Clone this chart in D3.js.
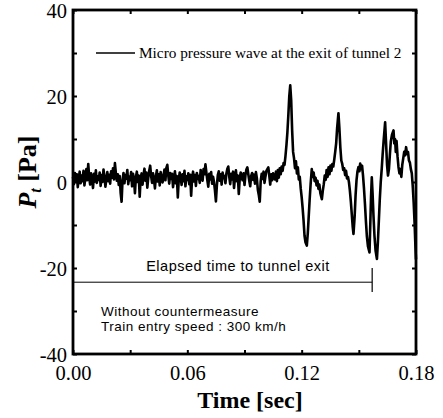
<!DOCTYPE html>
<html>
<head>
<meta charset="utf-8">
<script src="https://cdn.jsdelivr.net/npm/d3@7"></script>
<style>
  body { margin: 0; background: #fff; }
  svg { display: block; }
  .tick text { font-family: "Liberation Serif", "Times New Roman", serif; font-size: 20.5px; fill: #000; }
  .tick line { stroke: #000; stroke-width: 2; }
</style>
</head>
<body>
<div id="chart"></div>
<script>
// Axis ticks and labels
const xTicks = [0, 0.03, 0.06, 0.09, 0.12, 0.15, 0.18];
const xTickLabels = ["0.00", "", "0.06", "", "0.12", "", "0.18"];
const yTicks = [-40, -30, -20, -10, 0, 10, 20, 30, 40];
const yTickLabels = ["-40", "", "-20", "", "0", "", "20", "", "40"];

// Background noise before the wave arrives (sampled every 0.5 ms from t = 0)
const noiseStep = 0.0005;
const noiseValues = [
  1.2, -0.5, 2.1, 0.3, 1.8, -1.2, 0.9, 2.4, -0.3, 1.5,
  0.2, 2.6, -0.8, 1.1, 3.0, 0.4, 4.2, 1.0, -0.6, 2.0,
  0.8, -1.4, 1.9, 0.1, 2.7, -0.2, 1.3, 0.5, 2.2, -0.9,
  1.6, 0.0, 2.9, 1.2, -1.1, 0.7, 2.3, 0.2, 1.7, -0.4,
  2.5, 1.0, 3.2, 0.6, 4.4, 2.0, 0.3, 1.8, -0.7, 1.4,
  -2.5, -4.6, 0.5, 2.1, -0.3, 1.6, 0.8, 2.8, -0.5, 1.2,
  0.4, 2.3, -1.0, 1.9, 0.7, -2.6, 1.1, 2.4, 0.0, 1.5,
  -3.4, 0.9, 2.0, -0.6, 1.7, 3.1, 0.3, 2.2, -1.3, 1.0,
  2.6, 3.8, 1.4, -0.2, 2.0, 0.6, -1.5, 1.3, 2.7, 0.1,
  1.8, -0.8, 2.3, 0.9, -0.1, 1.6, 2.9, 0.4, 3.3, 4.0,
  1.5, -0.4, 2.1, 0.7, 1.9, -1.2, 0.8, 2.5, -0.3, 1.4,
  -3.6, 0.6, 2.2, 1.0, -0.7, 1.8, 0.2, 2.6, -1.0, 1.3,
  0.5, 2.0, -0.5, 1.7, -3.2, 0.9, 2.4, 0.1, 1.6, -0.9,
  2.1, 0.7, 1.4, -0.2, 2.8, 1.1, 0.3, 3.0, 1.8, 4.1,
  2.2, 0.4, -1.1, 1.9, 0.6, 2.3, -0.4, 1.2, 0.0, -2.0,
  -4.5, -0.8, 1.6, 2.5, 0.3, 1.8, -0.6, 2.2, 0.9, 1.4,
  -0.3, 2.0, 3.1, 3.6, 1.2, -0.5, 1.9, 0.6, 2.4, -1.4,
  1.0, 2.7, 0.2, 1.5, -2.8, 0.8, 2.2, 1.1, 0.4, 2.0,
  -0.7, 1.6, 2.9, 3.4, 1.8, 0.3, -1.0, 1.4, 2.1, 0.5,
  1.7, -0.4, 2.3, 0.8, -1.8, -3.0, -4.6, 0.2, 1.9, 0.7,
  2.4, -0.2, 1.3, 2.6, 3.0, 3.4, 1.5, -0.6, 1.8, 0.4,
  2.0, 0.9
];

// Micro pressure wave pulses (time in sec, pressure in Pa)
const burstTimes = [
  0.1060, 0.1065, 0.1070, 0.1075, 0.1080, 0.1085, 0.1090, 0.1095, 0.1100, 0.1105,
  0.1110, 0.1115, 0.1120, 0.1125, 0.1130, 0.1135, 0.1140, 0.1145, 0.1150, 0.1155,
  0.1160, 0.1165, 0.1170, 0.1175, 0.1180, 0.1185, 0.1190, 0.1195, 0.1200, 0.1205,
  0.1210, 0.1215, 0.1220, 0.1227, 0.1232, 0.1237, 0.1242, 0.1247, 0.1253, 0.1258,
  0.1263, 0.1268, 0.1273, 0.1278, 0.1283, 0.1288, 0.1293, 0.1298, 0.1306, 0.1311,
  0.1316, 0.1321, 0.1326, 0.1331, 0.1336, 0.1341, 0.1346, 0.1351, 0.1356, 0.1361,
  0.1366, 0.1371, 0.1376, 0.1381, 0.1386, 0.1393, 0.1398, 0.1403, 0.1408, 0.1413,
  0.1418, 0.1423, 0.1428, 0.1433, 0.1438, 0.1443, 0.1448, 0.1453, 0.1458, 0.1463,
  0.1468, 0.1472, 0.1478, 0.1483, 0.1488, 0.1493, 0.1498, 0.1503, 0.1507, 0.1512,
  0.1517, 0.1522, 0.1527, 0.1532, 0.1537, 0.1542, 0.1548, 0.1556, 0.1560, 0.1564,
  0.1568, 0.1572, 0.1577, 0.1582, 0.1588, 0.1595, 0.1600, 0.1605, 0.1610, 0.1615,
  0.1620, 0.1625, 0.1630, 0.1638, 0.1643, 0.1648, 0.1653, 0.1658, 0.1663, 0.1668,
  0.1674, 0.1682, 0.1686, 0.1690, 0.1694, 0.1698, 0.1703, 0.1708, 0.1713, 0.1718,
  0.1723, 0.1728, 0.1733, 0.1738, 0.1743, 0.1748, 0.1753, 0.1758, 0.1763, 0.1768,
  0.1773, 0.1778, 0.1783, 0.1788, 0.1793, 0.1797, 0.1800
];
const burstValues = [
  0.6, 2.4, 0.2, 2.8, 1.0, 3.2, 1.8, 3.6, 2.6, 4.4,
  4.0, 6.0, 8.5, 11.5, 15.5, 20.0, 22.5, 19.0, 12.0, 7.0,
  5.5, 3.2, 4.8, 2.0, 3.4, 0.6, 1.2, -1.5, -3.5, -6.0,
  -9.0, -12.5, -14.0, -14.8, -12.0, -8.0, -4.0, -0.5, 3.0, 1.2,
  2.2, 0.2, 1.0, -0.8, 0.3, -1.6, -0.6, -2.6, -4.0, -2.0,
  -0.5, 1.5, 0.5, 2.8, 1.2, 3.4, 1.8, 3.8, 2.6, 4.2,
  3.6, 5.2, 7.0, 9.0, 12.5, 16.0, 12.5, 8.0, 5.0, 4.2,
  2.8, 3.2, 1.6, 2.6, 0.8, 1.2, 0.0, -2.0, -4.5, -7.5,
  -10.5, -12.1, -8.0, -3.0, 0.5, 2.5, 3.5, 2.5, 4.3, 3.0,
  3.8, 1.5, -1.5, -5.0, -9.0, -12.5, -15.0, -16.4, -10.0, -3.5,
  1.1, -2.5, -8.0, -12.5, -16.0, -17.9, -14.0, -9.0, -4.0, 0.0,
  3.0, 6.5, 9.5, 13.9, 9.0, 4.0, 1.5, 3.0, 6.5, 9.5,
  11.0, 12.0, 9.0, 10.0, 7.0, 9.5, 6.0, 3.5, 2.0, 3.0,
  1.2, 4.0, 5.5, 7.0, 6.2, 8.1, 6.5, 7.0, 5.0, 4.5,
  3.0, 2.0, -1.0, -5.0, -10.0, -15.0, -18.0
];

// Elapsed time marker (time to tunnel exit) and its level
const exitTime = 0.157;
const markerLevel = -23.3;

// Layout
const width = 443;
const height = 418;
const margin = {top: 10, right: 27, bottom: 64, left: 73};

const svg = d3.select("#chart").append("svg")
  .attr("width", width)
  .attr("height", height);

const x = d3.scaleLinear()
  .domain([0, 0.18])
  .range([margin.left, width - margin.right]);

const y = d3.scaleLinear()
  .domain([-40, 40])
  .range([height - margin.bottom, margin.top]);

// Combine noise and burst into one series
const series = noiseValues.map((v, i) => ({t: i * noiseStep, v: v}))
  .concat(burstTimes.map((t, i) => ({t: t, v: burstValues[i]})));

const line = d3.line()
  .x(d => x(d.t))
  .y(d => y(d.v));

svg.append("path")
  .datum(series)
  .attr("fill", "none")
  .attr("stroke", "#000")
  .attr("stroke-width", 2.6)
  .attr("stroke-linejoin", "round")
  .attr("d", line);

// Axes with inward ticks on all four sides
const fmtX = d => xTickLabels[xTicks.indexOf(d)];
const fmtY = d => yTickLabels[yTicks.indexOf(d)];

svg.append("g")
  .attr("transform", `translate(0,${y(-40)})`)
  .call(d3.axisBottom(x).tickValues(xTicks).tickFormat(fmtX).tickSize(-4).tickPadding(11))
  .call(g => g.select(".domain").remove());

svg.append("g")
  .attr("transform", `translate(0,${y(40)})`)
  .call(d3.axisTop(x).tickValues(xTicks).tickFormat("").tickSize(-4))
  .call(g => g.select(".domain").remove());

svg.append("g")
  .attr("transform", `translate(${x(0)},0)`)
  .call(d3.axisLeft(y).tickValues(yTicks).tickFormat(fmtY).tickSize(-4).tickPadding(6))
  .call(g => g.select(".domain").remove())
  .call(g => g.selectAll("text").attr("dy", "0.36em"));

svg.append("g")
  .attr("transform", `translate(${x(0.18)},0)`)
  .call(d3.axisRight(y).tickValues(yTicks).tickFormat("").tickSize(-4))
  .call(g => g.select(".domain").remove());

// Frame
svg.append("rect")
  .attr("x", x(0))
  .attr("y", y(40))
  .attr("width", x(0.18) - x(0))
  .attr("height", y(-40) - y(40))
  .attr("fill", "none")
  .attr("stroke", "#000")
  .attr("stroke-width", 2.8);

// Axis titles
svg.append("text")
  .attr("x", 250)
  .attr("y", 408)
  .attr("text-anchor", "middle")
  .style("font-family", "'Liberation Serif', serif")
  .style("font-weight", "bold")
  .style("font-size", "24px")
  .text("Time [sec]");

const yTitle = svg.append("text")
  .attr("transform", "translate(36,172) rotate(-90)")
  .attr("text-anchor", "middle")
  .style("font-family", "'Liberation Serif', serif")
  .style("font-weight", "bold")
  .style("font-size", "26px");
yTitle.append("tspan").style("font-style", "italic").text("P");
yTitle.append("tspan").style("font-style", "italic").style("font-size", "16px")
  .attr("dy", 5).text("t");
yTitle.append("tspan").attr("dy", -5).text(" [Pa]");

// Legend
svg.append("line")
  .attr("x1", 96).attr("x2", 135)
  .attr("y1", 53).attr("y2", 53)
  .attr("stroke", "#000")
  .attr("stroke-width", 1.5);

svg.append("text")
  .attr("x", 139)
  .attr("y", 58)
  .style("font-family", "'Liberation Serif', serif")
  .style("font-size", "15.3px")
  .text("Micro pressure wave at the exit of tunnel 2");

// Elapsed time marker
svg.append("line")
  .attr("x1", x(0)).attr("x2", x(exitTime))
  .attr("y1", y(markerLevel)).attr("y2", y(markerLevel))
  .attr("stroke", "#000")
  .attr("stroke-width", 1);

svg.append("line")
  .attr("x1", x(exitTime)).attr("x2", x(exitTime))
  .attr("y1", y(-20)).attr("y2", y(-25.6))
  .attr("stroke", "#000")
  .attr("stroke-width", 1.2);

const sans = "'Liberation Sans', Arial, sans-serif";

svg.append("text")
  .attr("x", 238)
  .attr("y", 271)
  .attr("text-anchor", "middle")
  .style("font-family", sans)
  .style("font-size", "14.5px")
  .style("letter-spacing", "0.5px")
  .text("Elapsed time to tunnel exit");

svg.append("text")
  .attr("x", 101)
  .attr("y", 316)
  .style("font-family", sans)
  .style("font-size", "13.5px")
  .style("letter-spacing", "0.5px")
  .text("Without countermeasure");

svg.append("text")
  .attr("x", 101)
  .attr("y", 331)
  .style("font-family", sans)
  .style("font-size", "13.5px")
  .style("letter-spacing", "0.5px")
  .text("Train entry speed : 300 km/h");
</script>
</body>
</html>
